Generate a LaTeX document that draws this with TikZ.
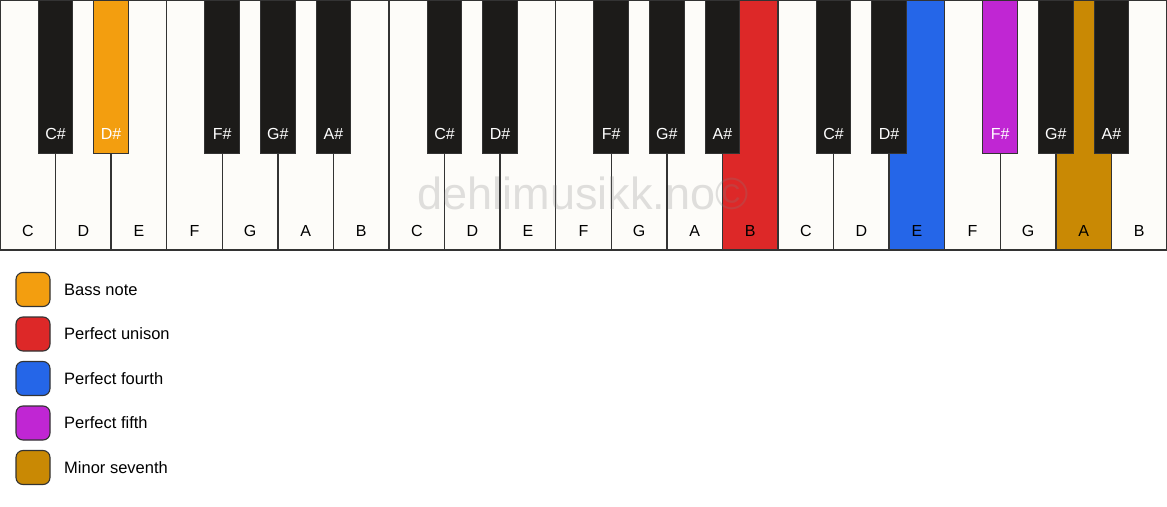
\documentclass[tikz,border=0pt]{standalone}
\usepackage{fontspec}
\setmainfont{Liberation Sans}
\definecolor{ivory}{HTML}{FDFCF9}
\definecolor{keyblack}{HTML}{1C1B19}
\definecolor{edge}{HTML}{333333}
\definecolor{cbass}{HTML}{F39E0F}
\definecolor{cunison}{HTML}{DD2828}
\definecolor{cfourth}{HTML}{2566E8}
\definecolor{cfifth}{HTML}{C026D3}
\definecolor{cseventh}{HTML}{C98904}
\tikzset{
  whitekey/.style={draw=edge, line width=1.3pt, fill=ivory},
  blackkey/.style={draw=edge, line width=1.0pt, fill=keyblack},
  wlabel/.style={font=\fontsize{16}{18}\selectfont, text=black, anchor=base},
  blabel/.style={font=\fontsize{16}{18}\selectfont, text=white, anchor=base},
  swatch/.style={draw=edge, line width=1.1pt, rounded corners=7pt, minimum width=34pt, minimum height=34pt, inner sep=0pt},
  legtext/.style={font=\fontsize{16.5}{19}\selectfont, anchor=west, inner sep=0pt},
}
\begin{document}
\begin{tikzpicture}[x=1pt,y=-1pt]
\useasboundingbox (0,0) rectangle (1167,506);
\fill[white] (0,0) rectangle (1167,506);
\def\w{55.571}
% white keys
\foreach \i/\n/\c in {0/C/ivory,1/D/ivory,2/E/ivory,3/F/ivory,4/G/ivory,5/A/ivory,6/B/ivory,
  7/C/ivory,8/D/ivory,9/E/ivory,10/F/ivory,11/G/ivory,12/A/ivory,13/B/cunison,
  14/C/ivory,15/D/ivory,16/E/cfourth,17/F/ivory,18/G/ivory,19/A/cseventh,20/B/ivory}{
  \draw[whitekey, fill=\c] ({\i*\w},0.6) rectangle ({(\i+1)*\w},250);
  \node[wlabel] (w\i) at ({(\i+0.5)*\w},236) {\n};
}
% watermark
\node[font=\fontsize{45}{50}\selectfont, text=gray, text opacity=0.24] (wm) at (583,193) {dehlimusikk.no©};
% black keys
\foreach \b/\n/\c in {1/C\#/keyblack,2/D\#/cbass,4/F\#/keyblack,5/G\#/keyblack,6/A\#/keyblack,
  8/C\#/keyblack,9/D\#/keyblack,11/F\#/keyblack,12/G\#/keyblack,13/A\#/keyblack,
  15/C\#/keyblack,16/D\#/keyblack,18/F\#/cfifth,19/G\#/keyblack,20/A\#/keyblack}{
  \draw[blackkey, fill=\c] ({\b*\w-17.3},0.6) rectangle ({\b*\w+17.3},153);
  \node[blabel] (b\b) at ({\b*\w},139) {\n};
}
% outer border
\draw[edge, line width=1.3pt] (0.6,0.6) rectangle (1166.4,250);
% legend
\foreach \k/\c/\t in {0/cbass/Bass note,1/cunison/Perfect unison,2/cfourth/Perfect fourth,3/cfifth/Perfect fifth,4/cseventh/Minor seventh}{
  \node[swatch, fill=\c] (s\k) at (33,{289.5+\k*44.5}) {};
  \node[legtext] (t\k) at (64,{289.5+\k*44.5}) {\t};
}
\end{tikzpicture}
\end{document}
